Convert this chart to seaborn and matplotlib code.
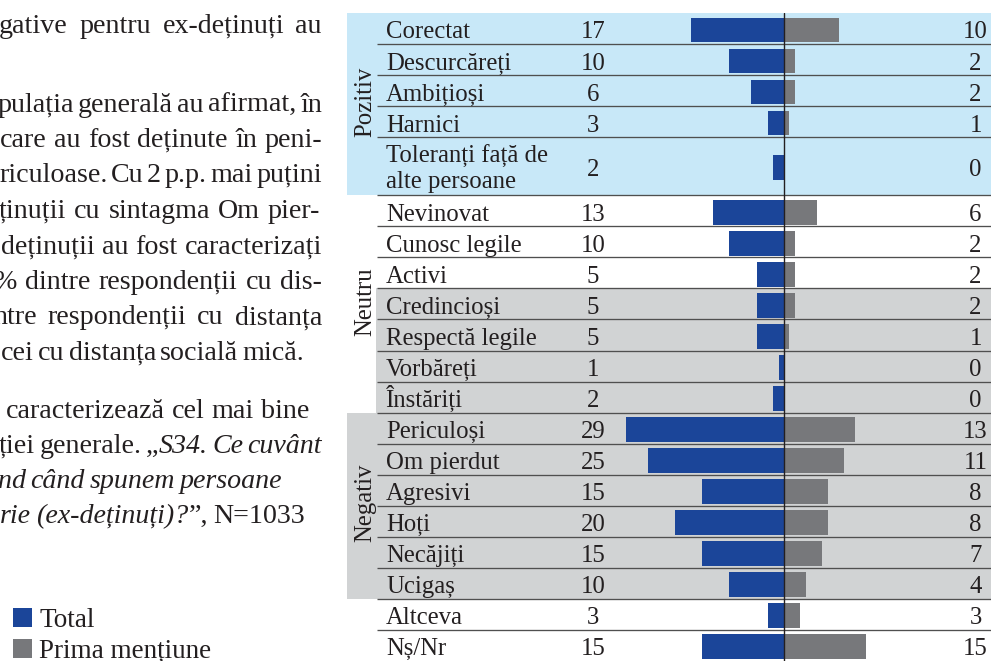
import matplotlib
matplotlib.use("Agg")
import matplotlib.pyplot as plt
from matplotlib.patches import Rectangle
import numpy as np
import pandas as pd
import seaborn as sns

# ---------------------------------------------------------------------------
# Data: words associated with ex-prisoners (% of respondents)
# ---------------------------------------------------------------------------
LABELS = [
    "Corectat", "Descurcăreți", "Ambițioși", "Harnici",
    "Toleranți față de\nalte persoane",
    "Nevinovat", "Cunosc legile", "Activi", "Credincioși",
    "Respectă legile", "Vorbăreți", "Înstăriți",
    "Periculoși", "Om pierdut", "Agresivi", "Hoți", "Necăjiți", "Ucigaș",
    "Altceva", "Nș/Nr",
]
TOTAL = [17, 10, 6, 3, 2, 13, 10, 5, 5, 5, 1, 2, 29, 25, 15, 20, 15, 10, 3, 15]
PRIMA = [10, 2, 2, 1, 0, 6, 2, 2, 2, 1, 0, 0, 13, 11, 8, 8, 7, 4, 3, 15]
SERIES = ["Total", "Prima mențiune"]

GROUPS = ["Pozitiv", "Neutru", "Negativ"]
GROUP_FIRST = [0, 5, 12]
GROUP_LAST = [4, 11, 17]
NEUTRU_SHADED = (8, 11)

# Running text beside the chart (underscores toggle italics)
BODY_TEXT = [
    "gative pentru ex-deținuți au",
    "pulația generală au afirmat, în",
    "care au fost deținute în peni-",
    "riculoase. Cu 2 p.p. mai puțini",
    "ținuții cu sintagma Om pier-",
    "deținuții au fost caracterizați",
    "% dintre respondenții cu dis-",
    "ntre respondenții cu distanța",
    "cei cu distanța socială mică.",
    "caracterizează cel mai bine",
    "ției generale. „_S34. Ce cuvânt_",
    "_nd când spunem persoane_",
    "_rie (ex-deținuți)?_”, N=1033",
]
# baseline y, left x and right x of each line (pixels); justified or ragged
BODY_BASE = [33.0, 111.5, 147.0, 182.5, 218.0, 253.5, 289.0, 324.5, 360.0,
             418.0, 453.0, 488.0, 523.0]
BODY_X0 = [-1, -3, 0, -1, -1, 1, -6, -7, 1, 6, -1, -2, 0]
BODY_X1 = [322, 322, 322, 322, 320, 322, 322, 322, 304, 311, 322, 282, 305]
BODY_JUST = [True] * 8 + [False] * 5

# ---------------------------------------------------------------------------
# Style
# ---------------------------------------------------------------------------
BLUE = "#1B4599"
GREY = "#77787B"
SKY = "#C8E8F8"
SHADE = "#D1D3D4"
INK = "#231F20"
RULE = "#4F4F4F"
SERIF = ["Liberation Serif", "DejaVu Serif"]
CHART_FS = 17.8
BODY_FS = 20.2
LEGEND_FS = 19.5

sns.set_style("white")
plt.rcParams["font.family"] = SERIF
plt.rcParams["text.color"] = INK

W, H, DPI = 991, 661, 100
fig = plt.figure(figsize=(W / DPI, H / DPI), dpi=DPI)
fig.patch.set_facecolor("white")

# chart geometry (pixels)
LEFT_PX, TOP_PX = 347, 13
ZERO_PX, UNIT_PX = 784, 5.46
RULE_PX = 377
SHADE_N_PX = 376
LABEL_PX = 386
TOTAL_PX = 593
PRIMA_PX = 975.5
GROUP_PX = 371.5
BAR_SHIFT = 0.045
TEXT_DROP = 0.32


def ux(px):
    return (px - ZERO_PX) / UNIT_PX


heights = np.array([1.87 if "\n" in s else 1.0 for s in LABELS])
tops = np.concatenate([[0.0], np.cumsum(heights)[:-1]])
centers = tops + heights / 2
y_end = heights.sum()

ax = fig.add_axes([LEFT_PX / W, 0, 1 - LEFT_PX / W, (H - TOP_PX) / H])

records = []
for c, t, p in zip(centers, TOTAL, PRIMA):
    records.append({"rand": c + BAR_SHIFT, "procent": -t, "serie": SERIES[0]})
    records.append({"rand": c + BAR_SHIFT, "procent": p, "serie": SERIES[1]})
df = pd.DataFrame(records)

sns.barplot(
    data=df, x="procent", y="rand", hue="serie", hue_order=SERIES,
    palette=[BLUE, GREY], orient="y", native_scale=True, dodge=False,
    width=0.8, errorbar=None, saturation=1, linewidth=0, ax=ax, zorder=2,
)

x_lo, x_hi = ux(LEFT_PX), ux(W)
ax.set_xlim(x_lo, x_hi)
ax.set_ylim(y_end, 0)

# group backgrounds
g0_bottom = tops[GROUP_LAST[0]] + heights[GROUP_LAST[0]]
ax.add_patch(Rectangle((x_lo, 0), x_hi - x_lo, g0_bottom, facecolor=SKY,
                       lw=0, zorder=0))
a, b = NEUTRU_SHADED
ax.add_patch(Rectangle((ux(SHADE_N_PX), tops[a]), x_hi - ux(SHADE_N_PX),
                       tops[b] + heights[b] - tops[a], facecolor=SHADE,
                       lw=0, zorder=0))
a, b = GROUP_FIRST[2], GROUP_LAST[2]
ax.add_patch(Rectangle((x_lo, tops[a]), x_hi - x_lo,
                       tops[b] + heights[b] - tops[a], facecolor=SHADE,
                       lw=0, zorder=0))

# row rules
for i in range(len(LABELS) - 1):
    y = tops[i] + heights[i]
    ax.hlines(y, ux(RULE_PX), x_hi, color=RULE, lw=0.95, zorder=3)

# zero line
ax.axvline(0, color=INK, lw=1.0, zorder=4)

# row texts
for i, lab in enumerate(LABELS):
    c = centers[i]
    lines = lab.split("\n")
    if len(lines) == 1:
        ax.text(ux(LABEL_PX), c + TEXT_DROP, lab, ha="left", va="baseline",
                fontsize=CHART_FS, color=INK, zorder=5)
    else:
        for ln, off in zip(lines, (-0.11, 0.70)):
            ax.text(ux(LABEL_PX), c + off, ln, ha="left", va="baseline",
                    fontsize=CHART_FS, color=INK, zorder=5)
    ax.text(ux(TOTAL_PX), c + TEXT_DROP, f"{TOTAL[i]}", ha="center",
            va="baseline", fontsize=CHART_FS, color=INK, zorder=5)
    ax.text(ux(PRIMA_PX), c + TEXT_DROP, f"{PRIMA[i]}", ha="center",
            va="baseline", fontsize=CHART_FS, color=INK, zorder=5)

# group names
for g, a, b in zip(GROUPS, GROUP_FIRST, GROUP_LAST):
    mid = (tops[a] + tops[b] + heights[b]) / 2 - 0.08
    ax.text(ux(GROUP_PX), mid, g, rotation=90, rotation_mode="anchor",
            ha="center", va="baseline", fontsize=CHART_FS, color=INK,
            zorder=5)

ax.axis("off")

sns.move_legend(
    ax, "upper left", bbox_to_anchor=(13 / W, 1 - 608 / H),
    bbox_transform=fig.transFigure, frameon=False, title=None,
    prop={"family": SERIF, "size": LEGEND_FS}, labelcolor=INK,
    handlelength=0.7, handleheight=0.7, handletextpad=0.26,
    labelspacing=0.21, borderpad=0, borderaxespad=0,
)

# ---------------------------------------------------------------------------
# Running text on the left
# ---------------------------------------------------------------------------
tax = fig.add_axes([0, 0, 1, 1])
tax.set_xlim(0, W)
tax.set_ylim(H, 0)
tax.axis("off")
renderer = fig.canvas.get_renderer()


def text_width(s, italic):
    t = tax.text(0, 0, s, fontsize=BODY_FS,
                 fontstyle="italic" if italic else "normal")
    w = t.get_window_extent(renderer=renderer).width
    t.remove()
    return w


def parse_words(line, italic):
    words = []
    for raw in line.split(" "):
        pieces, buf = [], ""
        for ch in raw:
            if ch == "_":
                if buf:
                    pieces.append((buf, italic))
                    buf = ""
                italic = not italic
            else:
                buf += ch
        if buf:
            pieces.append((buf, italic))
        words.append(pieces)
    return words, italic


space_w = text_width("n n", False) - text_width("nn", False)
italic_state = False
for line, base, x0, x1, just in zip(BODY_TEXT, BODY_BASE, BODY_X0, BODY_X1,
                                    BODY_JUST):
    words, italic_state = parse_words(line, italic_state)
    widths = [[text_width(s, it) for s, it in w] for w in words]
    total = sum(sum(w) for w in widths)
    n = len(words)
    fit = (x1 - x0 - total) / (n - 1)
    if just:
        # justified: spread the words so the line fills its measure
        gap = fit
    else:
        # ragged: plain spaces, tightened only if the line would overrun
        gap = min(space_w, fit)
    gap = max(gap, 0.45 * space_w)
    x = x0
    for pieces, pw in zip(words, widths):
        for (s, it), w in zip(pieces, pw):
            tax.text(x, base, s, ha="left", va="baseline", fontsize=BODY_FS,
                     fontstyle="italic" if it else "normal", color=INK)
            x += w
        x += gap

fig.savefig("out.png", dpi=DPI)
